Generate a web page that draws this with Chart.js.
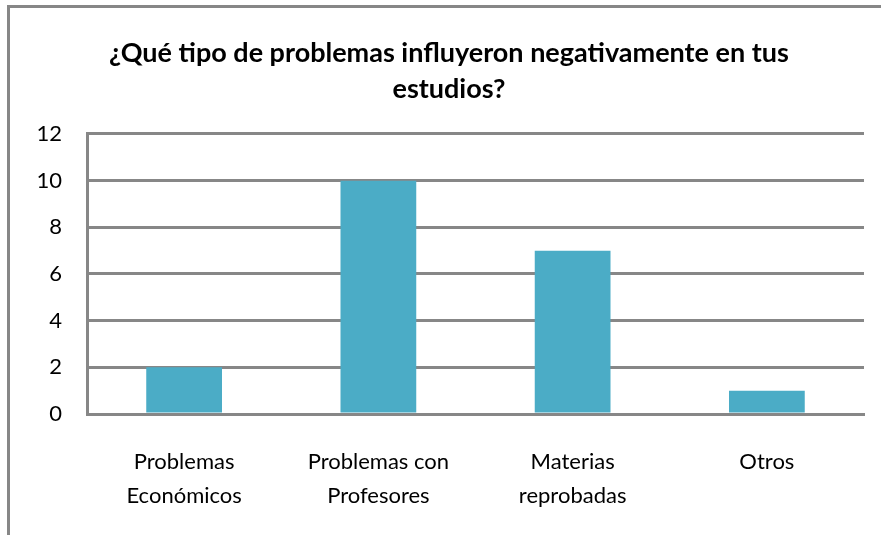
<!DOCTYPE html>
<html lang="es">
<head>
    <meta charset="UTF-8">
    <title>Problemas que influyeron en los estudios</title>
    <script src="https://cdn.jsdelivr.net/npm/chart.js"></script>
    <style>
        * {
            box-sizing: border-box;
            margin: 0;
            padding: 0;
        }
        body {
            background: #ffffff;
        }
        .chart-box {
            width: 881px;
            height: 535px;
            position: relative;
        }
    </style>
</head>
<body>
    <div class="chart-box">
        <canvas id="graficaProblemas"></canvas>
    </div>

    <script>
        // Datos de la encuesta
        const tituloGrafica = ['¿Qué tipo de problemas influyeron negativamente en tus', 'estudios?'];
        const categorias = [
            ['Problemas', 'Económicos'],
            ['Problemas con', 'Profesores'],
            ['Materias', 'reprobadas'],
            ['Otros']
        ];
        const respuestas = [2, 10, 7, 1];
        const ejeYMin = 0;
        const ejeYMax = 12;
        const ejeYPaso = 2;

        const grisLinea = '#878787';
        const fuente = 'Lato, "Open Sans", sans-serif';

        // Marco gris superior e izquierdo del área del gráfico
        const marco = {
            id: 'marco',
            beforeDraw(chart) {
                const c = chart.ctx;
                c.save();
                c.fillStyle = '#ffffff';
                c.fillRect(0, 0, chart.width, chart.height);
                c.strokeStyle = grisLinea;
                c.lineWidth = 3;
                c.beginPath();
                c.moveTo(chart.width, 6.5);
                c.lineTo(8.5, 6.5);
                c.lineTo(8.5, chart.height);
                c.stroke();
                c.restore();
            }
        };

        let ctx = document.getElementById('graficaProblemas').getContext('2d');
        let chart = new Chart(ctx, {
            type: 'bar',
            data: {
                labels: categorias,
                datasets: [{
                    label: 'Respuestas',
                    data: respuestas,
                    backgroundColor: '#4bacc6',
                    borderWidth: 0,
                    categoryPercentage: 1,
                    barPercentage: 0.39
                }]
            },
            plugins: [marco],
            options: {
                responsive: true,
                maintainAspectRatio: false,
                animation: false,
                layout: {
                    padding: { left: 34, right: 17, top: 0, bottom: 0 }
                },
                plugins: {
                    legend: { display: false },
                    tooltip: { enabled: false },
                    title: {
                        display: true,
                        text: tituloGrafica,
                        color: '#000000',
                        font: { family: fuente, size: 27, weight: 'bold', lineHeight: 1.333 },
                        padding: { top: 35, bottom: 27 }
                    }
                },
                scales: {
                    x: {
                        grid: { display: false, drawTicks: false },
                        border: { display: true, color: grisLinea, width: 3 },
                        ticks: {
                            color: '#000000',
                            padding: 31,
                            maxRotation: 0,
                            autoSkip: false,
                            font: { family: fuente, size: 22, lineHeight: 1.545 }
                        },
                        afterFit(scale) {
                            scale.height = 121;
                        }
                    },
                    y: {
                        min: ejeYMin,
                        max: ejeYMax,
                        grid: { color: grisLinea, lineWidth: 3, drawTicks: false },
                        border: { display: true, color: grisLinea, width: 3 },
                        ticks: {
                            stepSize: ejeYPaso,
                            color: '#000000',
                            padding: 25,
                            font: { family: fuente, size: 22 }
                        },
                        afterFit(scale) {
                            scale.width = 53;
                        }
                    }
                }
            }
        });
    </script>
</body>
</html>
